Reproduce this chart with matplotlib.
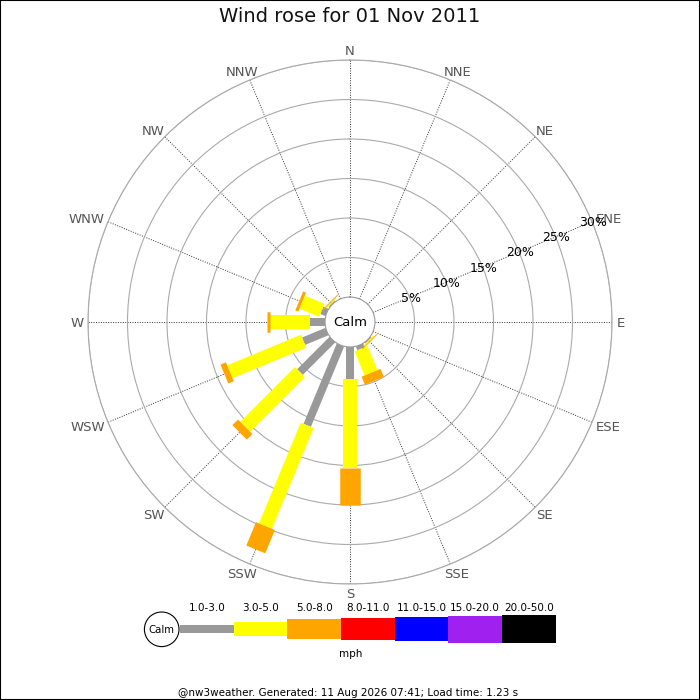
import numpy as np
import matplotlib
matplotlib.use("Agg")
import matplotlib.pyplot as plt
from matplotlib.patches import Circle, Rectangle

# wind rose data, % of time per speed bin (mph)
directions = ["N", "NNE", "NE", "ENE", "E", "ESE", "SE", "SSE",
              "S", "SSW", "SW", "WSW", "W", "WNW", "NW", "NNW"]
speed_bins = ["1.0-3.0", "3.0-5.0", "5.0-8.0", "8.0-11.0",
              "11.0-15.0", "15.0-20.0", "20.0-50.0"]
pct_1_3 = [0, 0, 0, 0, 0, 0, 0.15, 0.5, 4.1, 11.0, 5.8, 3.2, 1.9, 0.7, 0.15, 0]
pct_3_5 = [0, 0, 0, 0, 0, 0, 0.15, 3.3, 11.2, 13.8, 9.8, 10.1, 5.1, 2.7, 0.15, 0]
pct_5_8 = [0, 0, 0, 0, 0, 0, 0.12, 1.1, 4.7, 3.2, 1.0, 0.75, 0.4, 0.4, 0.12, 0]
pct_8_11 = [0] * 16
pct_11_15 = [0] * 16
pct_15_20 = [0] * 16
pct_20_50 = [0] * 16
rings = [5, 10, 15, 20, 25, 30]

bin_colors = ["#999999", "#ffff00", "#ffa500", "#ff0000", "#0000ff", "#a020f0", "#000000"]
bin_px = [8, 14, 20.5, 22.7, 24.3, 27, 28.7]   # bar thickness in pixels

fig = plt.figure(figsize=(7, 7), dpi=100)
ax = fig.add_axes([88 / 700, 116 / 700, 524 / 700, 524 / 700], projection="polar")
ax.set_theta_zero_location("N")
ax.set_theta_direction(-1)
ax.set_rlim(0, 30)
ax.set_rorigin(-3.16)

theta = np.deg2rad(np.arange(16) * 22.5)
ax.set_xticks(theta)
ax.set_xticklabels([])
ax.set_yticks(rings)
ax.set_yticklabels([])
ax.tick_params(length=0)
ax.xaxis.grid(True, color="#333333", linestyle=(0, (1, 1.5)), linewidth=0.7)
ax.yaxis.grid(True, color="#aaaaaa", linestyle="-", linewidth=0.8)
ax.spines["polar"].set_color("#aaaaaa")
ax.spines["polar"].set_linewidth(0.8)
ax.spines["inner"].set_color("#999999")
ax.spines["inner"].set_linewidth(0.8)

series = [pct_1_3, pct_3_5, pct_5_8, pct_8_11, pct_11_15, pct_15_20, pct_20_50]
base = np.zeros(16)
for vals, col, px in zip(series, bin_colors, bin_px):
    vals = np.array(vals, dtype=float)
    for th, b, v in zip(theta, base, vals):
        if v > 0:
            ax.plot([th, th], [b, b + v], color=col, lw=px * 0.72,
                    solid_capstyle="butt", zorder=3)
    base = base + vals

ax.text(0, -3.16, "Calm", ha="center", va="center", fontsize=9.5, zorder=5)

# radial labels along ENE
for r in rings:
    ax.annotate(f"{r}%", xy=(np.deg2rad(67.5), r), xytext=(1, -4.5),
                textcoords="offset pixels", ha="center", va="baseline",
                fontsize=9, color="black", zorder=6)

# compass labels
comp = []
for th, d in zip(theta, directions):
    t = ax.annotate(d, xy=(th, 30), xytext=(0, 0), textcoords="offset pixels",
                    ha="center", va="baseline", fontsize=9.5, color="#555555",
                    annotation_clip=False)
    comp.append((th, t))
fig.canvas.draw()
renderer = fig.canvas.get_renderer()
pad, cap = 4.8, 4.8
for th, t in comp:
    w = t.get_window_extent(renderer).width
    s, c = np.sin(th), np.cos(th)
    t.xyann = (s * (pad + w / 2), c * (pad + cap) - cap)

fig.text(0.5, 1 - 17 / 700, "Wind rose for 01 Nov 2011", ha="center", va="center",
         fontsize=14, color="#111111")

# legend, drawn in pixel coordinates
lax = fig.add_axes([140 / 700, 40 / 700, 420 / 700, 60 / 700])
lax.set_xlim(140, 560)
lax.set_ylim(660, 600)
lax.axis("off")
lax.add_patch(Circle((161.7, 629.3), 17.3, facecolor="white", edgecolor="black", lw=0.8))
lax.text(161.7, 629.8, "Calm", ha="center", va="center", fontsize=7.3)
seg = (555.7 - 180) / len(speed_bins)
lefts = 180 + seg * np.arange(len(speed_bins))
thick = np.array(bin_px)
lax.bar(lefts, thick, width=seg, bottom=629 - thick / 2, align="edge",
        color=bin_colors, linewidth=0)
for x, lab in zip(lefts, speed_bins):
    lax.text(x + seg / 2, 608, lab, ha="center", va="center", fontsize=7.5,
             clip_on=False)
fig.text(351 / 700, 1 - 654 / 700, "mph", ha="center", va="center", fontsize=7.5)

fig.text(348 / 700, 1 - 693 / 700,
         "@nw3weather. Generated: 11 Aug 2026 07:41; Load time: 1.23 s",
         ha="center", va="center", fontsize=7.5)
fig.patches.append(Rectangle((0, 0), 1, 1, transform=fig.transFigure, fill=False,
                             edgecolor="black", lw=1.5))

fig.savefig("out.png", dpi=100)
